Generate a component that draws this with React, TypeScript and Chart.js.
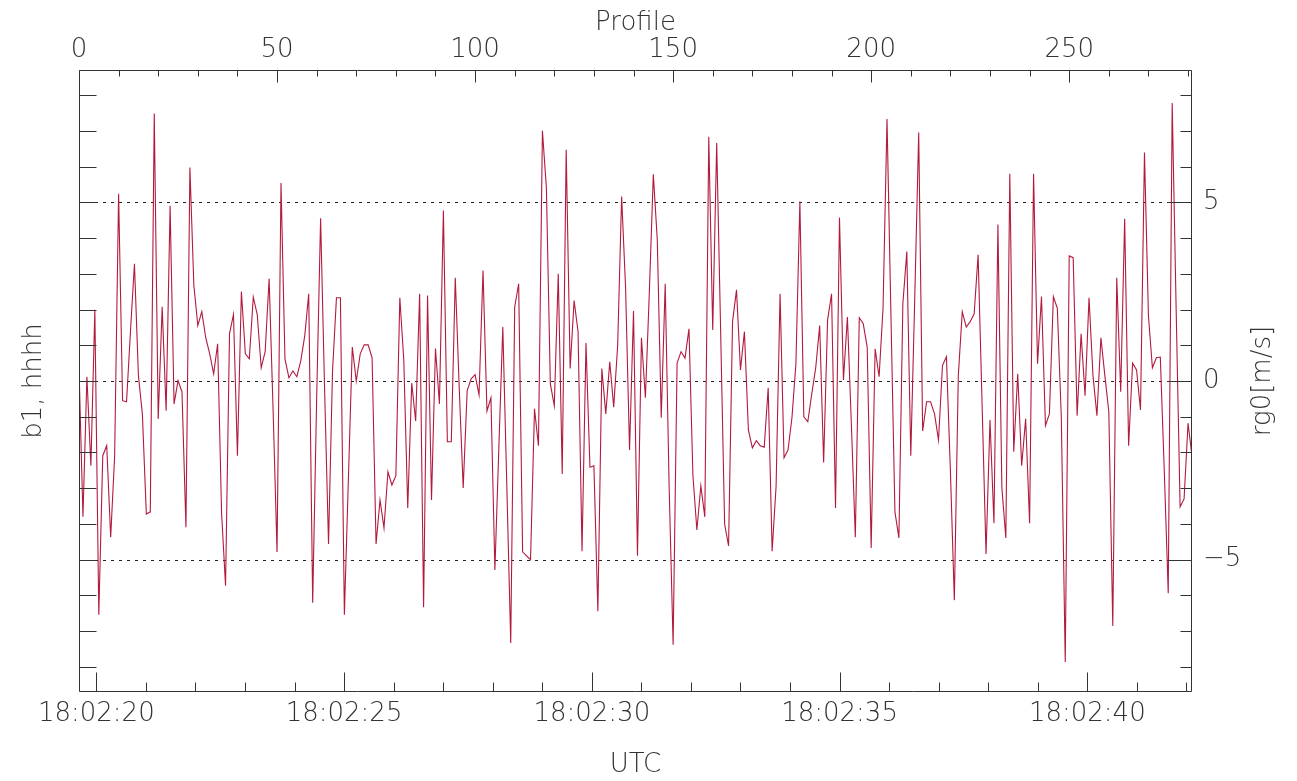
import React, { useEffect, useRef } from "react";
import { Chart, registerables } from "chart.js";

Chart.register(...registerables);

// rg0 [m/s] per profile (profile index 0..281)
const rg0Values: number[] = [
  0.37, -3.8, 0.12, -2.37, 1.99, -6.54, -2.09, -1.81, -4.37, -2.09,
  5.24, -0.55, -0.58, 1.4, 3.28, 0.15, -0.92, -3.72, -3.66, 7.48,
  -1.06, 2.08, -0.83, 4.9, -0.64, 0.01, -0.3, -4.09, 5.97, 2.67,
  1.55, 1.94, 1.21, 0.76, 0.2, 1.04, -3.7, -5.73, 1.32, 1.86,
  -2.09, 2.5, 0.76, 0.62, 2.35, 1.86, 0.37, 0.82, 2.86, -0.8,
  -4.78, 5.54, 0.62, 0.09, 0.28, 0.12, 0.57, 1.27, 2.44, -6.2,
  -0.5, 4.55, -0.2, -4.56, 0.26, 2.33, 2.33, -6.54, -2.8, 0.95,
  0.0, 0.76, 1.01, 1.01, 0.65, -4.56, -3.33, -4.11, -2.54, -2.91,
  -2.65, 2.33, 0.59, -3.55, -0.06, -1.12, 2.44, -6.33, 2.39, -3.33,
  0.91, -0.64, 4.77, -1.7, -1.7, 2.89, -0.2, -2.99, -0.27, 0.06,
  0.18, -0.39, 3.09, -0.84, -0.47, -5.29, -1.87, 1.51, -2.88, -7.33,
  2.07, 2.72, -4.78, -4.89, -5.0, -0.78, -1.81, 7.0, 5.41, -0.08,
  -0.69, 3.0, -2.6, 6.47, 0.35, 2.25, 1.38, -4.76, 1.06, -2.41,
  -2.37, -6.44, 0.35, -0.92, 0.54, -0.73, 1.0, 5.16, 2.6, -1.93,
  1.96, -4.89, 1.21, -0.47, 2.5, 5.78, 3.95, -1.03, 2.72, -3.0,
  -7.38, 0.5, 0.82, 0.64, 1.46, -2.65, -4.17, -2.93, -3.8, 6.83,
  1.43, 6.66, 1.38, -4.0, -4.61, 1.66, 2.55, 0.31, 1.38, -1.37,
  -1.87, -1.67, -1.81, -1.85, -0.19, -4.76, -2.93, 2.44, -2.15, -1.93,
  -1.03, 0.48, 5.02, -1.0, -1.14, -0.36, 0.37, 1.55, -2.28, 1.71,
  2.44, -3.55, 4.57, 0.03, 1.79, -1.2, -4.37, 1.77, 1.6, 0.95,
  -4.67, 0.9, 0.12, 2.05, 7.33, 1.8, -3.66, -4.39, 2.16, 3.62,
  -2.09, 2.3, 6.95, -1.4, -0.58, -0.58, -0.92, -1.65, 0.43, 0.68,
  -2.5, -6.13, 0.15, 1.94, 1.51, 1.66, 1.88, 3.53, -0.64, -4.84,
  -1.09, -3.98, 4.38, -2.99, -4.39, 5.8, -1.98, 0.2, -2.37, -1.06,
  -3.98, 5.8, 0.48, 2.36, -1.25, -0.92, 2.36, 2.03, -1.0, -7.86,
  3.5, 3.45, -0.97, 1.32, -0.41, 2.33, 0.15, -0.97, 1.21, 0.15,
  -0.86, -6.85, 2.89, -0.3, 4.54, -1.81, 0.5, 0.31, -0.81, 6.39,
  1.83, 0.37, 0.65, 0.67, -2.5, -5.94, 7.78, 2.0, -3.52, -3.3,
  -1.18, -2.1,
];

const profileMin = 0;
const profileMax = 281;
const profileMajorTicks = [0, 50, 100, 150, 200, 250];
const profileMinorTicks = [10, 20, 30, 40, 60, 70, 80, 90, 110, 120, 130, 140, 160, 170, 180, 190, 210, 220, 230, 240, 260, 270, 280];

const timeSeconds = [20, 21, 22, 23, 24, 25, 26, 27, 28, 29, 30, 31, 32, 33, 34, 35, 36, 37, 38, 39, 40, 41, 42];
const timeLabelSeconds = [20, 25, 30, 35, 40];
const timeLabels = ["18:02:20", "18:02:25", "18:02:30", "18:02:35", "18:02:40"];
const profileAt20s = 4.37;
const profilesPerSecond = 12.51;

const yMin = -8.7;
const yMax = 8.7;
const rightTickValues = [-5, 0, 5];
const rightTickLabels = ["\u22125", "0", "5"];
const unitTicks = [-8, -7, -6, -5, -4, -3, -2, -1, 0, 1, 2, 3, 4, 5, 6, 7, 8];

const FONT = "'DejaVu Sans', 'Liberation Sans', sans-serif";
const TEXT = "#333";
const AXIS = "#333";

const profileOfSecond = (s: number) => profileAt20s + (s - 20) * profilesPerSecond;

const decorPlugin = {
  id: "decor",
  beforeDatasetsDraw(chart: any) {
    const { ctx, chartArea: a, scales } = chart;
    ctx.save();
    ctx.strokeStyle = "#222";
    ctx.lineWidth = 1;
    ctx.setLineDash([3, 5]);
    for (const v of rightTickValues) {
      const y = Math.round(scales.y.getPixelForValue(v)) + 0.5;
      ctx.beginPath();
      ctx.moveTo(a.left, y);
      ctx.lineTo(a.right, y);
      ctx.stroke();
    }
    ctx.restore();
  },
  afterDatasetsDraw(chart: any) {
    const { ctx, chartArea: a, scales } = chart;
    ctx.save();
    ctx.strokeStyle = AXIS;
    ctx.lineWidth = 1;
    const L = Math.round(a.left) + 0.5;
    const R = Math.round(a.right) - 0.5;
    const T = Math.round(a.top) + 0.5;
    const B = Math.round(a.bottom) - 0.5;
    const seg = (x1: number, y1: number, x2: number, y2: number) => {
      ctx.beginPath();
      ctx.moveTo(x1, y1);
      ctx.lineTo(x2, y2);
      ctx.stroke();
    };
    seg(L, T, R, T);
    seg(L, B, R, B);
    seg(L, T, L, B);
    seg(R, T, R, B);
    for (const v of unitTicks) {
      const y = Math.round(scales.y.getPixelForValue(v)) + 0.5;
      seg(L, y, L + 17, y);
      const len = rightTickValues.includes(v) ? 24 : 11;
      seg(R, y, R - len, y);
    }
    for (const p of profileMajorTicks) {
      const x = Math.round(scales.x2.getPixelForValue(p)) + 0.5;
      seg(x, T, x, T + 12);
    }
    for (const p of profileMinorTicks) {
      const x = Math.round(scales.x2.getPixelForValue(p)) + 0.5;
      seg(x, T, x, T + 6);
    }
    for (const s of timeSeconds) {
      const x = Math.round(scales.x.getPixelForValue(profileOfSecond(s))) + 0.5;
      const len = timeLabelSeconds.includes(s) ? 19 : 9;
      seg(x, B, x, B - len);
    }
    // right-hand axis title, reading bottom to top
    ctx.fillStyle = TEXT;
    ctx.font = `200 26px ${FONT}`;
    ctx.textAlign = "center";
    ctx.textBaseline = "middle";
    ctx.translate(1263, (a.top + a.bottom) / 2);
    ctx.rotate(-Math.PI / 2);
    ctx.fillText("rg0[m/s]", 0, 0);
    ctx.restore();
  },
};

export default function App() {
  const ref = useRef<HTMLCanvasElement | null>(null);
  useEffect(() => {
    if (!ref.current) return;
    const font = { family: FONT, size: 26, weight: "200" as any };
    const chart = new Chart(ref.current, {
      type: "line",
      data: {
        datasets: [
          {
            data: rg0Values.map((v, i) => ({ x: i, y: v })),
            borderColor: "rgb(178, 26, 62)",
            borderWidth: 1.1,
            pointRadius: 0,
            tension: 0,
            xAxisID: "x",
            yAxisID: "y",
          },
        ],
      },
      options: {
        animation: false,
        responsive: false,
        devicePixelRatio: 1,
        layout: { padding: 0 },
        plugins: { legend: { display: false }, tooltip: { enabled: false } },
        scales: {
          x: {
            type: "linear",
            position: "bottom",
            display: true,
            min: profileMin,
            max: profileMax,
            bounds: "data",
            grid: { display: false, drawTicks: false },
            border: { display: false },
            afterBuildTicks: (scale: any) => {
              scale.ticks = timeSeconds.map((s) => ({ value: profileOfSecond(s) }));
            },
            afterFit: (scale: any) => {
              scale.height = 89;
            },
            ticks: {
              autoSkip: false,
              maxRotation: 0,
              padding: 7,
              color: TEXT,
              font,
              callback: (_v: any, idx: number) => {
                const s = timeSeconds[idx];
                const k = timeLabelSeconds.indexOf(s);
                return k >= 0 ? timeLabels[k] : "";
              },
            },
            title: { display: true, text: "UTC", color: TEXT, font, padding: { top: 0, bottom: 0 } },
          },
          x2: {
            type: "linear",
            position: "top",
            display: true,
            min: profileMin,
            max: profileMax,
            bounds: "data",
            grid: { display: false, drawTicks: false },
            border: { display: false },
            afterBuildTicks: (scale: any) => {
              scale.ticks = profileMajorTicks.map((p) => ({ value: p }));
            },
            afterFit: (scale: any) => {
              scale.height = 70;
            },
            ticks: { autoSkip: false, maxRotation: 0, padding: 4, color: TEXT, font },
            title: { display: true, text: "Profile", color: TEXT, font, padding: { top: 8, bottom: 0 } },
          },
          y: {
            type: "linear",
            position: "left",
            display: true,
            min: yMin,
            max: yMax,
            grid: { display: false, drawTicks: false },
            border: { display: false },
            ticks: { display: false },
            afterFit: (scale: any) => {
              scale.width = 79;
            },
            title: { display: true, text: "b1, hhhh", color: TEXT, font, padding: { top: 19, bottom: 0 } },
          },
          y2: {
            type: "linear",
            position: "right",
            display: true,
            min: yMin,
            max: yMax,
            grid: { display: false, drawTicks: false },
            border: { display: false },
            afterBuildTicks: (scale: any) => {
              scale.ticks = rightTickValues.map((v) => ({ value: v }));
            },
            afterFit: (scale: any) => {
              scale.width = 105;
            },
            ticks: {
              padding: 11,
              color: TEXT,
              font,
              callback: (_v: any, idx: number) => rightTickLabels[idx],
            },
          },
        },
      },
      plugins: [decorPlugin],
    });
    return () => chart.destroy();
  }, []);
  return (
    <div style={{ position: "absolute", left: 0, top: 0, width: 1297, height: 781, background: "#fff" }}>
      <canvas ref={ref} width={1297} height={781} />
    </div>
  );
}
